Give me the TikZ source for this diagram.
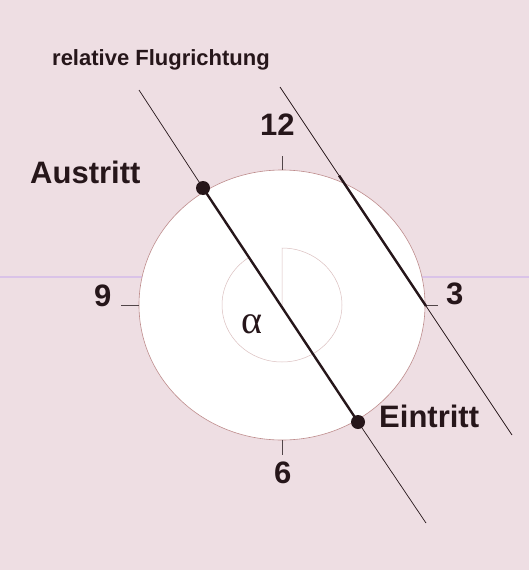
\documentclass[tikz,border=0pt]{standalone}
\usepackage{fontspec}
\setmainfont{Liberation Sans}
\newfontfamily\greekfont{Liberation Serif}
\definecolor{bgpink}{RGB}{238,222,227}
\definecolor{ink}{RGB}{38,22,26}
\definecolor{rimcol}{RGB}{190,140,140}
\definecolor{scanline}{RGB}{218,195,232}
\begin{document}
\begin{tikzpicture}[x=1pt,y=-1pt,
  lbl/.style={font=\fontsize{31}{31}\selectfont\bfseries, text=ink, inner sep=0pt, anchor=base west},
  smalllbl/.style={font=\fontsize{22}{22}\selectfont\bfseries, text=ink, inner sep=0pt, anchor=base west},
  dotnode/.style={circle, fill=ink, minimum size=14pt, inner sep=0pt},
  thinline/.style={draw=ink, line width=0.7pt},
  thickline/.style={draw=ink, line width=2.4pt},
  tick/.style={draw=ink!80, line width=0.6pt},
  rim/.style={draw=rimcol, line width=0.6pt}]
% background
\fill[bgpink] (0,0) rectangle (529,570);
\useasboundingbox (0,0) rectangle (529,570);
\draw[scanline, line width=1.2pt] (0,277) -- (529,277);
% disk
\coordinate (c) at (282,305);
\filldraw[fill=white, rim] (c) ellipse [x radius=143, y radius=135];
% inner angle arc
\draw[draw=rimcol!55, line width=0.5pt] (c) -- ++(0,-57) arc [start angle=-90, end angle=236.5, x radius=60, y radius=57];
% ticks
\draw[tick] (282,156) -- (282,170);
\draw[tick] (121,305) -- (139,305);
\draw[tick] (425,305) -- (438,305);
\draw[tick] (282,440) -- (282,455);
% left flight line
\coordinate (L1) at (139,90);
\coordinate (L2) at (426,523);
\node[dotnode] (aus) at (203,188) {};
\node[dotnode] (ein) at (358,422) {};
\draw[thinline] (L1) -- (aus.center);
\draw[thickline] (aus.center) -- (ein.center);
\draw[thinline] (ein.center) -- (L2);
% right flight line
\coordinate (R1) at (280,87);
\coordinate (Ra) at (339,175.5);
\coordinate (Rb) at (426,306);
\coordinate (R2) at (512,435);
\draw[thinline] (R1) -- (Ra);
\draw[thickline] (Ra) -- (Rb);
\draw[thinline] (Rb) -- (R2);
% labels
\node[smalllbl] (title) at (52,65) {relative Flugrichtung};
\node[lbl] (twelve) at (260,135) {12};
\node[lbl] (nine) at (94,306) {9};
\node[lbl] (three) at (446,304) {3};
\node[lbl] (six) at (274,483) {6};
\node[lbl] (austritt) at (30,183) {Austritt};
\node[lbl] (eintritt) at (379,427) {Eintritt};
\node[font=\greekfont\fontsize{40}{40}\selectfont, text=ink, inner sep=0pt] (alpha) at (252,324) {α};
\end{tikzpicture}
\end{document}
